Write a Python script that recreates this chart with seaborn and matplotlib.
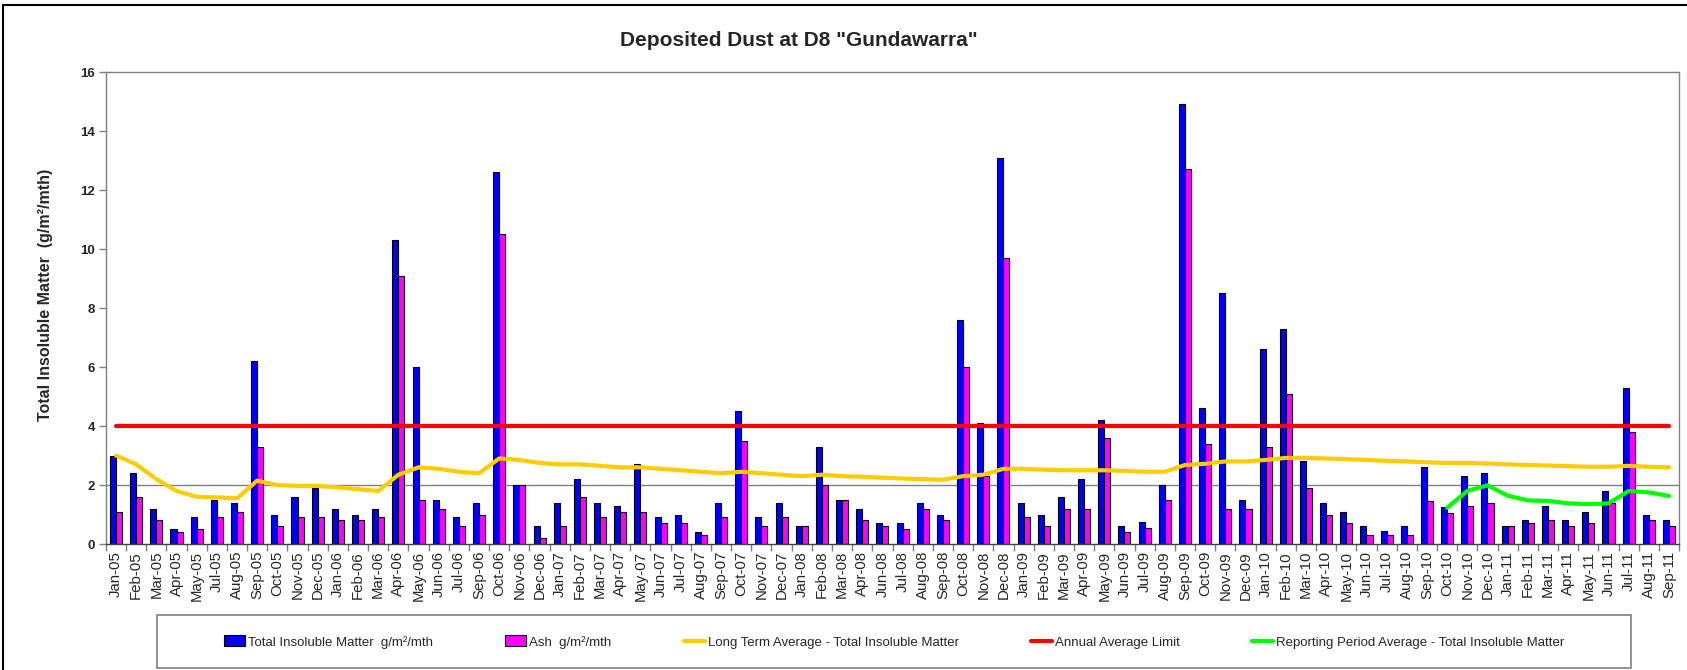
"""
Deposited dust at D8 "Gundawarra": monthly insoluble matter and ash with the
long term average, the annual limit and the reporting period average
"""

import numpy as np
import pandas as pd
import matplotlib.pyplot as plt
import seaborn as sns
from matplotlib.patches import Patch, Rectangle
from matplotlib.lines import Line2D

# Months sampled (a few months are missing in the record)
months = ["Jan-05", "Feb-05", "Mar-05", "Apr-05", "May-05", "Jul-05", "Aug-05", "Sep-05", "Oct-05", "Nov-05",
          "Dec-05", "Jan-06", "Feb-06", "Mar-06", "Apr-06", "May-06", "Jun-06", "Jul-06", "Sep-06", "Oct-06",
          "Nov-06", "Dec-06", "Jan-07", "Feb-07", "Mar-07", "Apr-07", "May-07", "Jun-07", "Jul-07", "Aug-07",
          "Sep-07", "Oct-07", "Nov-07", "Dec-07", "Jan-08", "Feb-08", "Mar-08", "Apr-08", "Jun-08", "Jul-08",
          "Aug-08", "Sep-08", "Oct-08", "Nov-08", "Dec-08", "Jan-09", "Feb-09", "Mar-09", "Apr-09", "May-09",
          "Jun-09", "Jul-09", "Aug-09", "Sep-09", "Oct-09", "Nov-09", "Dec-09", "Jan-10", "Feb-10", "Mar-10",
          "Apr-10", "May-10", "Jun-10", "Jul-10", "Aug-10", "Sep-10", "Oct-10", "Nov-10", "Dec-10", "Jan-11",
          "Feb-11", "Mar-11", "Apr-11", "May-11", "Jun-11", "Jul-11", "Aug-11", "Sep-11"]

total_insoluble = [3.0, 2.4, 1.2, 0.5, 0.9, 1.5, 1.4, 6.2, 1.0, 1.6,
                   1.9, 1.2, 1.0, 1.2, 10.3, 6.0, 1.5, 0.9, 1.4, 12.6,
                   2.0, 0.6, 1.4, 2.2, 1.4, 1.3, 2.7, 0.9, 1.0, 0.4,
                   1.4, 4.5, 0.9, 1.4, 0.6, 3.3, 1.5, 1.2, 0.7, 0.7,
                   1.4, 1.0, 7.6, 4.1, 13.1, 1.4, 1.0, 1.6, 2.2, 4.2,
                   0.6, 0.75, 2.0, 14.9, 4.6, 8.5, 1.5, 6.6, 7.3, 2.8,
                   1.4, 1.1, 0.6, 0.45, 0.6, 2.6, 1.25, 2.3, 2.4, 0.6,
                   0.8, 1.3, 0.8, 1.1, 1.8, 5.3, 1.0, 0.8]

ash = [1.1, 1.6, 0.8, 0.4, 0.5, 0.9, 1.1, 3.3, 0.6, 0.9,
       0.9, 0.8, 0.8, 0.9, 9.1, 1.5, 1.2, 0.6, 1.0, 10.5,
       2.0, 0.2, 0.6, 1.6, 0.9, 1.1, 1.1, 0.7, 0.7, 0.3,
       0.9, 3.5, 0.6, 0.9, 0.6, 2.0, 1.5, 0.8, 0.6, 0.5,
       1.2, 0.8, 6.0, 2.3, 9.7, 0.9, 0.6, 1.2, 1.2, 3.6,
       0.4, 0.55, 1.5, 12.7, 3.4, 1.2, 1.2, 3.3, 5.1, 1.9,
       1.0, 0.7, 0.3, 0.3, 0.3, 1.45, 1.05, 1.3, 1.4, 0.6,
       0.7, 0.8, 0.6, 0.7, 1.4, 3.8, 0.8, 0.6]

long_term_avg = [3.0, 2.7, 2.2, 1.8, 1.6, 1.58, 1.55, 2.15, 2.0, 1.97,
                 1.97, 1.92, 1.86, 1.8, 2.35, 2.6, 2.55, 2.45, 2.4, 2.9,
                 2.85, 2.75, 2.7, 2.7, 2.65, 2.6, 2.6, 2.55, 2.5, 2.45,
                 2.4, 2.45, 2.4, 2.35, 2.3, 2.35, 2.3, 2.28, 2.25, 2.22,
                 2.2, 2.18, 2.3, 2.35, 2.55, 2.55, 2.52, 2.5, 2.5, 2.5,
                 2.48, 2.45, 2.45, 2.68, 2.72, 2.8, 2.8, 2.85, 2.92, 2.92,
                 2.9, 2.88, 2.85, 2.82, 2.8, 2.77, 2.75, 2.75, 2.73, 2.7,
                 2.68, 2.66, 2.64, 2.62, 2.62, 2.65, 2.62, 2.6]

annual_limit = 4.0

reporting_months = ["Oct-10", "Nov-10", "Dec-10", "Jan-11", "Feb-11", "Mar-11",
                    "Apr-11", "May-11", "Jun-11", "Jul-11", "Aug-11", "Sep-11"]
reporting_avg = [1.23, 1.8, 1.99, 1.64, 1.48, 1.46, 1.38, 1.35, 1.38, 1.8, 1.75, 1.63]

label_tim = "Total Insoluble Matter  g/m\u00b2/mth"
label_ash = "Ash  g/m\u00b2/mth"

# Long format table for the grouped bars
bars = pd.DataFrame({
    "month": months * 2,
    "value": total_insoluble + ash,
    "series": [label_tim] * len(months) + [label_ash] * len(months),
})

sns.set_style("white")
plt.rcParams["font.family"] = ["Liberation Sans", "DejaVu Sans"]

fig = plt.figure(figsize=(16.87, 6.70), dpi=100)
ax = fig.add_axes([0.0628, 0.188, 0.9325, 0.7045])

sns.barplot(data=bars, x="month", y="value", hue="series", order=months,
            palette={label_tim: "#0000FF", label_ash: "#FF00FF"}, width=0.6,
            edgecolor="black", linewidth=0.8, saturation=1, legend=False, ax=ax, zorder=2)

pos = np.arange(len(months))
ax.axhline(2, color="#808080", lw=1, zorder=0.5)
sns.lineplot(x=pos, y=long_term_avg, color="#FFCC00", lw=3, ax=ax, zorder=3)
sns.lineplot(x=[pos[0], pos[-1]], y=[annual_limit, annual_limit], color="#FF0000", lw=3, ax=ax, zorder=3)
sns.lineplot(x=[months.index(m) for m in reporting_months], y=reporting_avg,
             color="#00FF00", lw=3, ax=ax, zorder=3)

ax.set_xlim(-0.5, len(months) - 0.5)
ax.set_ylim(0, 16)
ax.set_yticks(range(0, 17, 2))
ax.set_xlabel("")
ax.set_ylabel("")

# Excel style ticks: labels at centres, marks at category boundaries
ax.set_xticks(pos)
ax.set_xticklabels(months, rotation=90, fontsize=10.8)
ax.set_xticks(np.arange(-0.5, len(months), 1), minor=True)
ax.tick_params(axis="x", which="major", length=0, pad=5)
ax.tick_params(axis="x", which="minor", length=5, width=1, color="#808080", direction="out", bottom=True)
ax.tick_params(axis="y", length=5, width=1, color="#808080", direction="out", left=True, labelsize=9.5, pad=3)
for lab in ax.get_yticklabels():
    lab.set_fontweight("bold")

for side in ["left", "bottom", "top", "right"]:
    ax.spines[side].set_color("#808080")
    ax.spines[side].set_linewidth(1)
ax.spines["bottom"].set_color("#404040")

fig.text(0.4735, 1 - 41 / 670, "Deposited Dust at D8 \"Gundawarra\"", ha="center", va="center",
         fontsize=15, fontweight="bold")
fig.text(46 / 1687, 0.56, "Total Insoluble Matter  (g/m\u00b2/mth)", ha="center", va="center",
         rotation=90, fontsize=11.5, fontweight="bold")

# Legend below the chart, in its own box
handles = [Patch(facecolor="#0000FF", edgecolor="black", lw=0.8),
           Patch(facecolor="#FF00FF", edgecolor="black", lw=0.8),
           Line2D([], [], color="#FFCC00", lw=3),
           Line2D([], [], color="#FF0000", lw=3),
           Line2D([], [], color="#00FF00", lw=3)]
labels = [label_tim, label_ash, "Long Term Average - Total Insoluble Matter", "Annual Average Limit",
          "Reporting Period Average - Total Insoluble Matter"]
fig.legend(handles, labels, loc="center", bbox_to_anchor=(0.53, 1 - 642 / 670), ncol=5, frameon=False,
           fontsize=9.5, handlelength=1.6, handleheight=0.9, handletextpad=0.2, columnspacing=5.5)
fig.patches.append(Rectangle((157 / 1687, 1 - 668 / 670), 1474 / 1687, 53 / 670, transform=fig.transFigure,
                             fill=False, edgecolor="#808080", lw=1.2))
# chart area border
fig.patches.append(Rectangle((3 / 1687, -0.05), 1.2, 1 - 5 / 670 + 0.05, transform=fig.transFigure,
                             fill=False, edgecolor="black", lw=1.5, clip_on=False))

plt.savefig("out.png", dpi=100)
